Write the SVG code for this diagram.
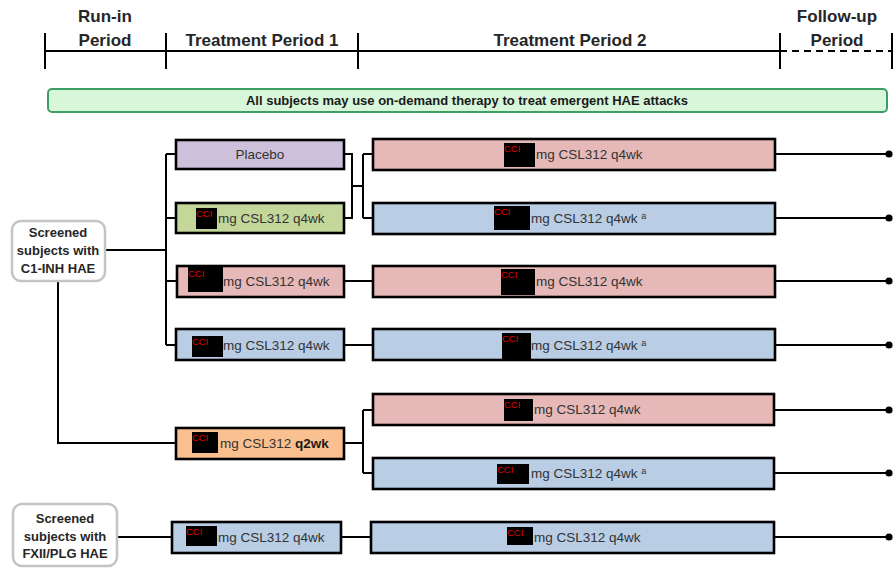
<svg xmlns="http://www.w3.org/2000/svg" width="895" height="569" viewBox="0 0 895 569">
<style>
.hdr{font-family:"Liberation Sans",Arial,sans-serif;font-weight:bold;font-size:17px;fill:#262626;text-anchor:middle}
.bx{stroke:#000;stroke-width:2.6}
.lbl{font-family:"Liberation Sans",Arial,sans-serif;font-size:13.5px;fill:#333}
.cci{font-family:"Liberation Sans",Arial,sans-serif;font-size:9.5px;fill:#e00000}
.red{fill:#000}
.scr{fill:#fff;stroke:#c4c4c4;stroke-width:2.5}
.st{font-family:"Liberation Sans",Arial,sans-serif;font-weight:bold;font-size:13px;fill:#262626;text-anchor:middle}
.ln{fill:none;stroke:#000;stroke-width:2}
.pl{fill:#ccc0da}.gr{fill:#c4d79b}.pk{fill:#e6b9b8}.bl{fill:#b9cde5}.or{fill:#fac090}
</style>
<defs>
<marker id="dot" viewBox="0 0 8 8" refX="4" refY="4" markerWidth="4" markerHeight="4" markerUnits="strokeWidth"><circle cx="4" cy="4" r="3.6" fill="#000"/></marker>
</defs>

<g id="timeline">
<line x1="45" y1="51" x2="780" y2="51" stroke="#000" stroke-width="2"/>
<line x1="780" y1="51" x2="892" y2="51" stroke="#000" stroke-width="2" stroke-dasharray="7,5"/>
<line x1="45" y1="33" x2="45" y2="69" stroke="#000" stroke-width="2"/>
<line x1="166" y1="33" x2="166" y2="69" stroke="#000" stroke-width="2"/>
<line x1="358" y1="33" x2="358" y2="69" stroke="#000" stroke-width="2"/>
<line x1="780" y1="33" x2="780" y2="69" stroke="#000" stroke-width="2"/>
<line x1="892" y1="33" x2="892" y2="69" stroke="#000" stroke-width="2"/>
<text class="hdr" x="105" y="22">Run-in</text>
<text class="hdr" x="105" y="46">Period</text>
<text class="hdr" x="262" y="46">Treatment Period 1</text>
<text class="hdr" x="570" y="46">Treatment Period 2</text>
<text class="hdr" x="837" y="22">Follow-up</text>
<text class="hdr" x="837" y="46">Period</text>
</g>

<g id="banner">
<rect x="48" y="89" width="839" height="23" rx="4" fill="#d8f7da" stroke="#3e9e62" stroke-width="2"/>
<text x="467" y="105" font-family="Liberation Sans,Arial,sans-serif" font-weight="bold" font-size="13" fill="#1a1a1a" text-anchor="middle">All subjects may use on-demand therapy to treat emergent HAE attacks</text>
</g>

<g id="connectors">
<path class="ln" d="M105,250 H166 M166,154 V345 M166,154 H176 M166,218 H176 M166,281 H176 M166,345 H176"/>
<path class="ln" d="M58,281 V443 H176"/>
<path class="ln" d="M344,154 H352 V218 H344 M352,186 H363 M363,154 V218 M363,154 H373 M363,218 H373"/>
<path class="ln" d="M344,281 H373 M344,345 H373"/>
<path class="ln" d="M344,443 H363 M363,410 V473 M363,410 H373 M363,473 H373"/>
<path class="ln" d="M117,537 H172 M341,537 H371"/>
<g stroke="#000" stroke-width="2" marker-end="url(#dot)">
<line x1="775" y1="154" x2="889" y2="154"/>
<line x1="775" y1="218" x2="889" y2="218"/>
<line x1="775" y1="281" x2="889" y2="281"/>
<line x1="775" y1="345" x2="889" y2="345"/>
<line x1="775" y1="410" x2="889" y2="410"/>
<line x1="775" y1="473" x2="889" y2="473"/>
<line x1="775" y1="537" x2="889" y2="537"/>
</g>
</g>

<g id="screened-c1inh">
<rect class="scr" x="12" y="221" width="93" height="60" rx="9"/>
<text class="st" x="58" y="237">Screened</text>
<text class="st" x="58" y="255">subjects with</text>
<text class="st" x="58" y="273">C1-INH HAE</text>
</g>

<g id="screened-fxii">
<rect class="scr" x="13" y="504" width="104" height="62" rx="9"/>
<text class="st" x="65" y="523">Screened</text>
<text class="st" x="65" y="541">subjects with</text>
<text class="st" x="65" y="558">FXII/PLG HAE</text>
</g>

<g id="tp1-placebo">
<rect class="bx pl" x="176" y="140" width="168" height="29"/>
<text class="lbl" x="260" y="159" text-anchor="middle">Placebo</text>
</g>
<g id="tp1-green">
<rect class="bx gr" x="176" y="203" width="168" height="30"/>
<rect class="red" x="196" y="208" width="21" height="21"/><text class="cci" x="196" y="217">CCI</text>
<text class="lbl" x="218" y="223">mg CSL312 q4wk</text>
</g>
<g id="tp1-pink">
<rect class="bx pk" x="177" y="266" width="167" height="31"/>
<rect class="red" x="188" y="267" width="35" height="25"/><text class="cci" x="188" y="277">CCI</text>
<text class="lbl" x="223" y="286">mg CSL312 q4wk</text>
</g>
<g id="tp1-blue">
<rect class="bx bl" x="176" y="329" width="168" height="31"/>
<rect class="red" x="192" y="336" width="31" height="21"/><text class="cci" x="192" y="345">CCI</text>
<text class="lbl" x="223" y="350">mg CSL312 q4wk</text>
</g>
<g id="tp1-q2wk">
<rect class="bx or" x="176" y="428" width="168" height="31"/>
<rect class="red" x="192" y="432" width="26" height="21"/><text class="cci" x="192" y="441">CCI</text>
<text class="lbl" x="220" y="448">mg CSL312 <tspan font-weight="bold" fill="#1a1a1a">q2wk</tspan></text>
</g>
<g id="tp1-fxii">
<rect class="bx bl" x="172" y="522" width="169" height="31"/>
<rect class="red" x="186" y="526" width="31" height="20"/><text class="cci" x="186" y="535">CCI</text>
<text class="lbl" x="218" y="542">mg CSL312 q4wk</text>
</g>

<g id="tp2-r1">
<rect class="bx pk" x="373" y="139" width="402" height="31"/>
<rect class="red" x="504" y="143" width="31" height="24"/><text class="cci" x="504" y="152">CCI</text>
<text class="lbl" x="536" y="159">mg CSL312 q4wk</text>
</g>
<g id="tp2-r2">
<rect class="bx bl" x="373" y="203" width="402" height="31"/>
<rect class="red" x="494" y="206" width="36" height="24"/><text class="cci" x="494" y="215">CCI</text>
<text class="lbl" x="531" y="223">mg CSL312 q4wk <tspan font-size="9" dy="-4">a</tspan></text>
</g>
<g id="tp2-r3">
<rect class="bx pk" x="373" y="266" width="402" height="31"/>
<rect class="red" x="501" y="269" width="34" height="26"/><text class="cci" x="501" y="278">CCI</text>
<text class="lbl" x="536" y="286">mg CSL312 q4wk</text>
</g>
<g id="tp2-r4">
<rect class="bx bl" x="373" y="329" width="402" height="31"/>
<rect class="red" x="502" y="333" width="29" height="26"/><text class="cci" x="502" y="342">CCI</text>
<text class="lbl" x="531" y="350">mg CSL312 q4wk <tspan font-size="9" dy="-4">a</tspan></text>
</g>
<g id="tp2-r5">
<rect class="bx pk" x="373" y="394" width="401" height="31"/>
<rect class="red" x="504" y="399" width="29" height="22"/><text class="cci" x="504" y="408">CCI</text>
<text class="lbl" x="534" y="414">mg CSL312 q4wk</text>
</g>
<g id="tp2-r6">
<rect class="bx bl" x="373" y="458" width="401" height="31"/>
<rect class="red" x="497" y="464" width="32" height="20"/><text class="cci" x="497" y="473">CCI</text>
<text class="lbl" x="531" y="478">mg CSL312 q4wk <tspan font-size="9" dy="-4">a</tspan></text>
</g>
<g id="tp2-r7">
<rect class="bx bl" x="371" y="522" width="403" height="31"/>
<rect class="red" x="507" y="527" width="26" height="18"/><text class="cci" x="507" y="536">CCI</text>
<text class="lbl" x="534" y="542">mg CSL312 q4wk</text>
</g>
</svg>
